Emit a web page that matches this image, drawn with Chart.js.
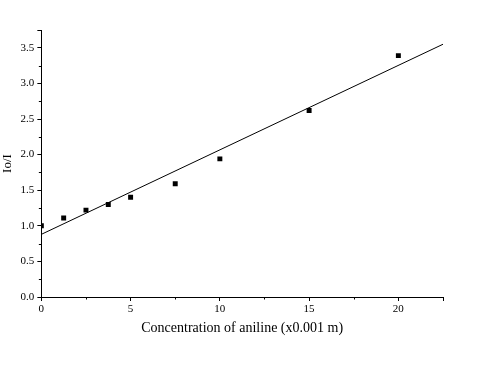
<!DOCTYPE html>
<html>
<head>
  <meta charset="UTF-8">
  <title>Io/I vs aniline</title>
  <script src="https://cdn.jsdelivr.net/npm/chart.js"></script>
  <style>
    body { margin: 0; background: #fff; }
    #chart { display: block; }
  </style>
</head>
<body>
  <canvas id="chart" width="495" height="383"></canvas>
  <script>
    // data
    const concentration = [0, 1.25, 2.5, 3.75, 5, 7.5, 10, 15, 20];
    const ratio = [1.0, 1.11, 1.22, 1.3, 1.4, 1.59, 1.94, 2.62, 3.39];
    // fitted line end points
    const fitX = [0, 22.5];
    const fitY = [0.88, 3.55];
    const xMinor = [2.5, 7.5, 12.5, 17.5];
    const yMinor = [0.25, 0.75, 1.25, 1.75, 2.25, 2.75, 3.25];

    const font = { family: "'Liberation Serif', 'Times New Roman', serif", size: 11 };

    // small minor ticks, drawn at half length
    const minorTicks = {
      id: "minorTicks",
      afterDraw(chart) {
        const c = chart.ctx;
        const xs = chart.scales.x, ys = chart.scales.y;
        c.save();
        c.strokeStyle = "#000";
        c.lineWidth = 1;
        c.beginPath();
        xMinor.forEach(v => {
          const px = Math.round(xs.getPixelForValue(v)) + 0.5;
          c.moveTo(px, xs.top);
          c.lineTo(px, xs.top + 2.5);
        });
        yMinor.forEach(v => {
          const py = Math.round(ys.getPixelForValue(v)) + 0.5;
          c.moveTo(ys.right, py);
          c.lineTo(ys.right - 2.5, py);
        });
        c.stroke();
        c.restore();
      }
    };

    new Chart(document.getElementById("chart"), {
      type: "scatter",
      data: {
        datasets: [
          {
            label: "data",
            data: concentration.map((x, i) => ({ x: x, y: ratio[i] })),
            pointStyle: "rect",
            pointRadius: 3.5,
            backgroundColor: "#000",
            borderColor: "#000",
            borderWidth: 0
          },
          {
            label: "fit",
            data: fitX.map((x, i) => ({ x: x, y: fitY[i] })),
            showLine: true,
            pointRadius: 0,
            borderColor: "#000",
            borderWidth: 1,
            fill: false
          }
        ]
      },
      options: {
        responsive: false,
        animation: false,
        layout: { padding: { top: 30, right: 52, bottom: 46, left: 0 } },
        plugins: {
          legend: { display: false },
          tooltip: { enabled: false }
        },
        scales: {
          x: {
            type: "linear",
            min: 0,
            max: 22.5,
            ticks: {
              stepSize: 5,
              color: "#000",
              font: font,
              padding: 2,
              maxRotation: 0,
              callback: v => (v % 5 === 0 ? v : "")
            },
            grid: {
              drawOnChartArea: false,
              drawTicks: true,
              tickLength: 4,
              tickColor: "#000"
            },
            border: { display: true, color: "#000", width: 1 },
            title: {
              display: true,
              text: "Concentration of aniline (x0.001 m)",
              color: "#000",
              font: { family: font.family, size: 14 },
              padding: { top: 2, bottom: 0 }
            }
          },
          y: {
            min: 0,
            max: 3.75,
            ticks: {
              stepSize: 0.5,
              color: "#000",
              font: font,
              padding: 3,
              callback: v => (Math.abs(v * 2 - Math.round(v * 2)) < 1e-6 ? v.toFixed(1) : "")
            },
            grid: {
              drawOnChartArea: false,
              drawTicks: true,
              tickLength: 4,
              tickColor: "#000"
            },
            border: { display: true, color: "#000", width: 1 },
            title: {
              display: true,
              text: "Io/I",
              color: "#000",
              font: { family: font.family, size: 13 },
              padding: { top: 0, bottom: 2 }
            }
          }
        }
      },
      plugins: [minorTicks]
    });
  </script>
</body>
</html>
